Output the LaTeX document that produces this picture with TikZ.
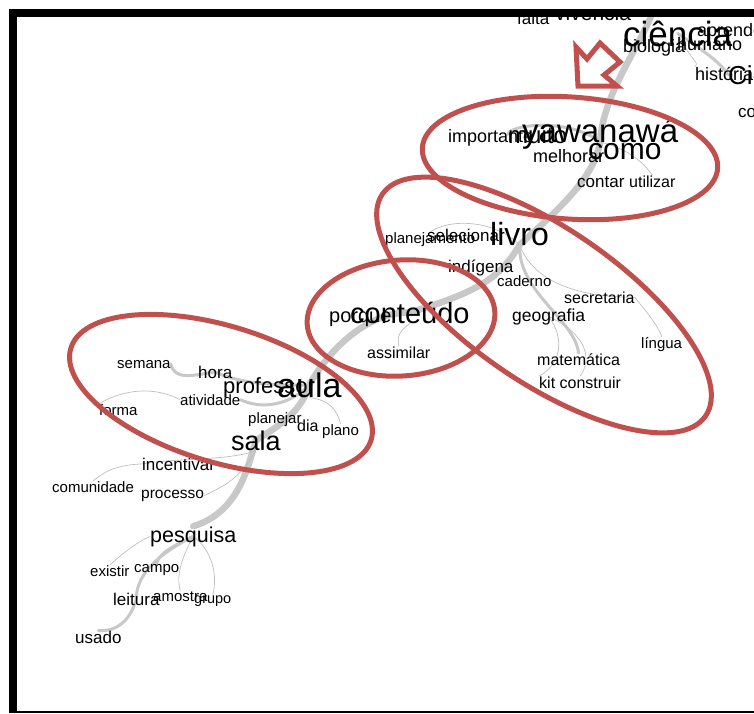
\documentclass[tikz,border=0pt]{standalone}
\usepackage{fontspec}
\setmainfont{Liberation Sans}
\definecolor{RingRed}{RGB}{192,80,77}
\definecolor{StemGray}{RGB}{200,200,200}
\definecolor{TwigGray}{RGB}{190,190,190}
\usetikzlibrary{backgrounds}
\tikzset{
  word/.style={font=\fontsize{#1}{#1}\selectfont,inner sep=0pt,anchor=base west},
  trunk/.style={draw=StemGray,line width=6.5pt,line cap=round},
  branch/.style={draw=StemGray,line width=3pt,line cap=round},
  twig/.style={draw=TwigGray,line width=0.7pt},
  ring/.style={draw=RingRed,line width=5pt},
}
\begin{document}
\begin{tikzpicture}[x=1pt,y=-1pt]
  \useasboundingbox (0,0) rectangle (754,713);
  % top, partly under the frame
  \node[word=21] (vivencia) at (555,20) {vivência}; \node[word=17] (falta) at (517,24) {falta};
  \node[word=35] (ciencia) at (623,46) {ciência}; \node[word=18] (aprender) at (697,36) {aprender};
  \node[word=18] (biologia) at (623,52) {biologia}; \node[word=18] (humano) at (677,50) {humano};
  \node[word=18] (historia) at (695,80) {história}; \node[word=26] (ciencias) at (728,84) {Ciências};
  \node[word=17] (conhecimento) at (738,117) {conhecimento};
  % yawanawa
  \node[word=18] (importante) at (448,142) {importante}; \node[word=24] (muito) at (508,143) {muito};
  \node[word=33] (yawanawa) at (522,142) {yawanawá}; \node[word=18] (melhorar) at (533,162) {melhorar};
  \node[word=30] (como) at (588,159) {como};
  \node[word=17] (contar) at (577,187) {contar}; \node[word=16] (utilizar) at (629,187) {utilizar};
  % livro
  \node[word=15] (planejamento) at (385,243) {planejamento}; \node[word=17] (selecionar) at (427,241) {selecionar};
  \node[word=32] (livro) at (490,245) {livro}; \node[word=17] (indigena) at (448,272) {indígena};
  \node[word=15] (caderno) at (497,286) {caderno}; \node[word=16] (secretaria) at (564,303) {secretaria};
  \node[word=17.5] (geografia) at (512,321) {geografia}; \node[word=15] (lingua) at (641,348) {língua};
  \node[word=16] (matematica) at (537,365) {matemática}; \node[word=16] (kit) at (539,388) {kit construir};
  % conteudo
  \node[word=20] (porque) at (329,322) {porque}; \node[word=29] (conteudo) at (350,323) {conteúdo};
  \node[word=16] (assimilar) at (367,358) {assimilar};
  % aula, sala
  \node[word=15] (semana) at (117,368) {semana}; \node[word=17] (hora) at (198,378) {hora};
  \node[word=22] (professor) at (223,393) {professor}; \node[word=34] (aula) at (277,397) {aula};
  \node[word=15] (atividade) at (180,405) {atividade}; \node[word=15] (forma) at (99,415) {forma};
  \node[word=15] (planejar) at (248,423) {planejar}; \node[word=16] (dia) at (297,431) {dia};
  \node[word=15] (plano) at (322,435) {plano}; \node[word=27] (sala) at (231,450) {sala};
  \node[word=17] (incentivar) at (142,470) {incentivar}; \node[word=15] (comunidade) at (52,492) {comunidade};
  \node[word=15.5] (processo) at (141,498) {processo};
  % pesquisa
  \node[word=21.5] (pesquisa) at (150,542) {pesquisa};
  \node[word=15] (existir) at (90,576) {existir}; \node[word=15] (campo) at (134,572) {campo};
  \node[word=17] (leitura) at (113,605) {leitura}; \node[word=15] (amostra) at (153,601) {amostra};
  \node[word=14.5] (grupo) at (194,603) {grupo}; \node[word=17] (usado) at (75,643) {usado};

  \begin{scope}[on background layer]
    \coordinate (stemtop) at (652,14);
    \draw[trunk] (stemtop) .. controls (635,55) and (603,95) .. (yawanawa.base)
      .. controls (594,178) and (560,208) .. (livro.base)
      .. controls (500,278) and (478,292) .. (conteudo.center)
      .. controls (368,312) and (330,348) .. (aula.center)
      .. controls (300,415) and (275,428) .. (sala.center)
      .. controls (248,465) and (240,512) .. (pesquisa.north);
    \draw[branch] (ciencia.center) .. controls (705,52) and (720,62) .. (ciencias.west);
    \draw[twig] (ciencia.center) .. controls (690,60) and (700,62) .. (historia.north west);
    \draw[branch] (muito.west) .. controls (510,124) and (570,118) .. (yawanawa.base);
    \draw[twig] (yawanawa.base) .. controls (632,150) and (645,165) .. (utilizar.north);
    \draw[twig] (livro.base) .. controls (495,220) and (450,218) .. (planejamento.north);
    \draw[twig] (livro.base) .. controls (530,272) and (560,297) .. (secretaria.east)
      .. controls (652,318) and (660,330) .. (lingua.north);
    \draw[branch] (livro.base) .. controls (518,292) and (575,320) .. (matematica.north);
    \draw[twig] (geografia.center) .. controls (566,340) and (560,365) .. (kit.north west);
    \draw[twig] (geografia.center) .. controls (588,335) and (592,360) .. (kit.north);
    \draw[twig] (conteudo.south) .. controls (396,333) and (398,340) .. (assimilar.north);
    \draw[branch] (semana.east) .. controls (175,380) and (190,376) .. (hora.center)
      .. controls (240,384) and (280,386) .. (aula.center);
    \draw[branch] (aula.center) .. controls (290,405) and (262,410) .. (atividade.east);
    \draw[twig] (atividade.west) .. controls (150,384) and (118,392) .. (forma.north west);
    \draw[twig] (aula.south) .. controls (330,400) and (337,410) .. (plano.north);
    \draw[twig] (sala.south) .. controls (230,461) and (172,458) .. (incentivar.west)
      .. controls (110,465) and (100,476) .. (comunidade.north);
    \draw[twig] (sala.south) .. controls (240,478) and (225,486) .. (processo.east);
    \draw[twig] (pesquisa.west) .. controls (135,543) and (120,556) .. (existir.north);
    \draw[branch] (pesquisa.center) .. controls (166,549) and (158,556) .. (campo.north);
    \draw[branch] (pesquisa.center) .. controls (150,558) and (136,580) .. (leitura.center)
      .. controls (130,622) and (115,632) .. (usado.north);
    \draw[twig] (pesquisa.center) .. controls (176,568) and (178,582) .. (amostra.north);
    \draw[twig] (pesquisa.center) .. controls (212,550) and (218,575) .. (grupo.north);
  \end{scope}

  % rings and pointer
  \draw[ring,rotate around={-4:(570,158)}] (570,158) ellipse [x radius=148,y radius=61];
  \draw[ring,rotate around={-34.5:(544,305)}] (544,305) ellipse [x radius=196,y radius=77];
  \draw[ring,rotate around={4:(401,318)}] (401,318) ellipse [x radius=94,y radius=58];
  \draw[ring,rotate around={-17:(221,394)}] (221,394) ellipse [x radius=157,y radius=68];
  \draw[ring,fill=white] (578,86) -- (576,47) -- (587,59) -- (600,43) -- (620,62) -- (604,75) -- (617,86) -- cycle;

  % frame
  \fill[white] (0,0) rectangle (754,9);
  \fill[white] (0,0) rectangle (9,713);
  \fill (9,9) rectangle (754,17);
  \fill (9,9) rectangle (16.5,713);
  \fill (9,710.5) rectangle (754,712.5);
\end{tikzpicture}
\end{document}
